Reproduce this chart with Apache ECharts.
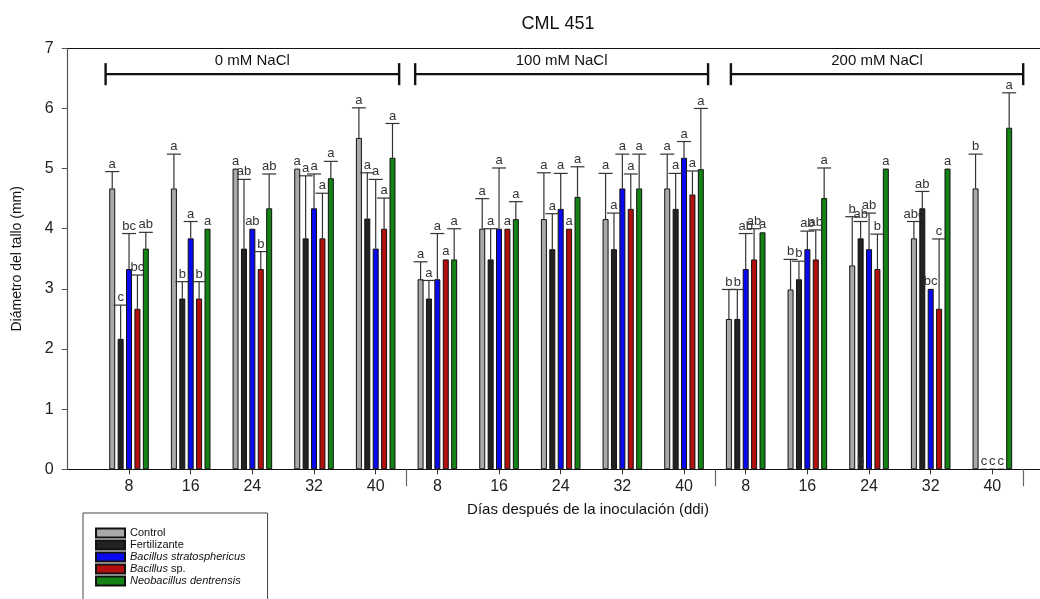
<!DOCTYPE html>
<html><head><meta charset="utf-8">
<script src="https://cdn.jsdelivr.net/npm/echarts@6/dist/echarts.min.js"></script>
<style>html,body{margin:0;padding:0;background:#fff}#c{width:1040px;height:599px}</style>
</head><body><div id="c"></div>
<script>
// ---- data ----
const days = ['8','16','24','32','40','8','16','24','32','40','8','16','24','32','40'];
const treatments = ['Control','Fertilizante','Bacillus stratosphericus','Bacillus sp.','Neobacillus dentrensis'];
const yTicks = [0,1,2,3,4,5,6,7];

const control    = [4.67,4.67,5.00,5.00,5.51, 3.16,4.00,4.16,4.16,4.67, 2.50,2.99,3.39,3.84,4.67];
const controlErr = [0.28,0.57,0,   0,   0.50, 0.29,0.50,0.77,0.76,0.57, 0.49,0.50,0.81,0.28,0.57];
const fert       = [2.17,2.84,3.67,3.84,4.17, 2.84,3.49,3.66,3.66,4.33, 2.50,3.16,3.84,4.34,0];
const fertErr    = [0.56,0.28,1.15,1.04,0.76, 0.30,0.51,0.59,0.60,0.59, 0.49,0.30,0.28,0.28,0];
const blue       = [3.33,3.84,4.00,4.34,3.67, 3.16,4.00,4.33,4.67,5.18, 3.33,3.66,3.66,3.00,0];
const blueErr    = [0.59,0.28,0,   0.57,1.15, 0.76,1.01,0.59,0.57,0.27, 0.59,0.30,0.60,0,   0];
const red        = [2.67,2.84,3.33,3.84,4.00, 3.49,4.00,4.00,4.33,4.57, 3.49,3.49,3.33,2.67,0];
const redErr     = [0.56,0.28,0.29,0.75,0.51, 0,   0,   0,   0.58,0.39, 0.51,0.49,0.58,1.16,0];
const green      = [3.67,4.00,4.34,4.84,5.18, 3.49,4.16,4.53,4.67,4.99, 3.94,4.51,5.00,5.00,5.68];
const greenErr   = [0.27,0,   0.57,0.28,0.57, 0.51,0.29,0.50,0.57,1.01, 0,   0.50,0,   0,   0.58];

const controlLetters = ['a','a','a','a','a', 'a','a','a','a','a', 'b','b','b','abc','b'];
const fertLetters    = ['c','b','ab','a','a', 'a','a','a','a','a', 'b','b','ab','ab','c'];
const blueLetters    = ['bc','a','ab','a','a', 'a','a','a','a','a', 'ab','ab','ab','bc','c'];
const redLetters     = ['bc','b','b','a','a', 'a','a','a','a','a', 'ab','ab','b','c','c'];
const greenLetters   = ['ab','a','ab','a','a', 'a','a','a','a','a', 'a','a','a','a','a'];
// stray letter printed at the base of one bar in the original
const fertBaseLetters = ['','','','','', '','','','','', '','','b','',''];

const saltLabels = ['0 mM NaCl','100 mM NaCl','200 mM NaCl'];
const saltStart  = [-0.38, 4.64, 9.76];
const saltEnd    = [4.38, 9.39, 14.5];
const saltLevel  = 6.57;

// ---- styling ----
const FONT = 'Liberation Sans, Arial, sans-serif';
const colors = ['#a9a9a9','#222222','#0a0af0','#b40f0f','#148214'];
const vals = [control, fert, blue, red, green];
const errs = [controlErr, fertErr, blueErr, redErr, greenErr];
const letters = [controlLetters, fertLetters, blueLetters, redLetters, greenLetters];
const baseLetters = [null, fertBaseLetters, null, null, null];
const BW = 6, GAPR = 0.4, N = 5;

function errRender(k){
  return function(params, api){
    const i = params.dataIndex;
    const v = vals[k][i], e = errs[k][i];
    const step = BW*(1+GAPR);
    const off = -((N*BW + (N-1)*BW*GAPR)/2) + BW/2 + k*step;
    const base = api.coord([i, v]);
    const top = api.coord([i, v+e]);
    const x = base[0] + off;
    const ch = [];
    if (e > 0) {
      ch.push({type:'line', shape:{x1:x,y1:base[1],x2:x,y2:top[1]}, style:{stroke:'#333',lineWidth:1.2}});
      ch.push({type:'line', shape:{x1:x-7,y1:top[1],x2:x+7,y2:top[1]}, style:{stroke:'#333',lineWidth:1.2}});
    }
    ch.push({type:'text', x:x, y:top[1]-1, style:{text:letters[k][i], align:'center', verticalAlign:'bottom', fontSize:13, fill:'#333', fontFamily:FONT}});
    if (baseLetters[k] && baseLetters[k][i]) {
      const b0 = api.coord([i, 0]);
      ch.push({type:'text', x:x, y:b0[1]-1, style:{text:baseLetters[k][i], align:'center', verticalAlign:'bottom', fontSize:13, fill:'#333', fontFamily:FONT}});
    }
    return {type:'group', children:ch};
  };
}

function bracketRender(params, api){
  const i = params.dataIndex;
  const p1 = api.coord([api.value(0), api.value(2)]);
  const p2 = api.coord([api.value(1), api.value(2)]);
  const st = {stroke:'#111', lineWidth:2.4};
  return {type:'group', children:[
    {type:'line', shape:{x1:p1[0],y1:p1[1],x2:p2[0],y2:p2[1]}, style:st},
    {type:'line', shape:{x1:p1[0],y1:p1[1]-11,x2:p1[0],y2:p1[1]+11}, style:st},
    {type:'line', shape:{x1:p2[0],y1:p2[1]-11,x2:p2[0],y2:p2[1]+11}, style:st},
    {type:'text', x:(p1[0]+p2[0])/2, y:p1[1]-6, style:{text:saltLabels[i], align:'center', verticalAlign:'bottom', fontSize:15, fill:'#111', fontFamily:FONT}}
  ]};
}

const series = [];
treatments.forEach((name,k)=>{
  series.push({
    name, type:'bar', xAxisIndex:2, yAxisIndex:1,
    data: vals[k], barWidth:BW, barGap:(GAPR*100)+'%',
    itemStyle:{color:colors[k], borderColor:'#111', borderWidth:1},
    silent:true, z:2
  });
});
treatments.forEach((name,k)=>{
  series.push({
    type:'custom', xAxisIndex:2, yAxisIndex:1, silent:true, z:5,
    data: vals[k].map((v,i)=>[i, v+errs[k][i]]),
    encode:{x:0,y:1},
    renderItem: errRender(k), clip:false
  });
});
series.push({
  type:'custom', xAxisIndex:4, yAxisIndex:1, silent:true, z:5, clip:false,
  data: saltLabels.map((l,i)=>[saltStart[i], saltEnd[i], saltLevel]),
  encode:{x:[0,1], y:2},
  renderItem: bracketRender
});

const italicRich = {i:{fontStyle:'italic', fontSize:11, fontFamily:FONT, color:'#111'}, n:{fontSize:11, fontFamily:FONT, color:'#111'}};

const option = {
  animation:false,
  backgroundColor:'#fff',
  textStyle:{fontFamily:FONT},
  title:[
    {text:'CML 451', left:553, top:10, textAlign:'center', textStyle:{fontSize:18, fontWeight:'normal', color:'#111', fontFamily:FONT}},
    {text:'Días después de la inoculación (ddi)', left:583, top:497, textAlign:'center', textStyle:{fontSize:15, fontWeight:'normal', color:'#111', fontFamily:FONT}}
  ],
  legend:{
    data:treatments, orient:'vertical', left:83, top:513, height:300,
    padding:[14,22,30,12], itemWidth:29, itemHeight:9, itemGap:0,
    borderColor:'#444', borderWidth:1, icon:'rect',
    selectedMode:false,
    textStyle:{fontSize:11, lineHeight:12, color:'#111', fontFamily:FONT, rich:italicRich},
    formatter:function(name){
      if (name==='Bacillus sp.') return '{i|Bacillus} {n|sp.}';
      if (name==='Control' || name==='Fertilizante') return '{n|'+name+'}';
      return '{i|'+name+'}';
    }
  },
  grid:[
    {left:67.7, right:0, top:48.3, bottom:129.7},
    {left:98.2, right:16.8, top:48.3, bottom:129.7}
  ],
  xAxis:[
    {type:'value', gridIndex:0, min:0, max:1, position:'bottom', axisLine:{show:true, onZero:false, lineStyle:{color:'#111', width:1.2}}, axisTick:{show:false}, axisLabel:{show:false}, splitLine:{show:false}},
    {type:'value', gridIndex:0, min:0, max:1, position:'top', axisLine:{show:true, onZero:false, lineStyle:{color:'#111', width:1.2}}, axisTick:{show:false}, axisLabel:{show:false}, splitLine:{show:false}},
    {type:'category', gridIndex:1, data:days, position:'bottom', boundaryGap:true,
      axisLine:{show:false}, axisTick:{show:true, alignWithLabel:true, interval:0, length:5, lineStyle:{color:'#333'}},
      axisLabel:{show:true, interval:0, margin:9, fontSize:16, color:'#222', fontFamily:FONT}, splitLine:{show:false}},
    {type:'category', gridIndex:1, data:days, position:'bottom', boundaryGap:true,
      axisLine:{show:false}, axisTick:{show:true, alignWithLabel:false, length:17, interval:function(idx){return idx===5||idx===10;}, lineStyle:{color:'#666', width:1.2}},
      axisLabel:{show:false}, splitLine:{show:false}},
    {type:'value', gridIndex:1, min:-0.5, max:14.5, show:false}
  ],
  yAxis:[
    {type:'value', gridIndex:0, min:0, max:7, interval:1,
      name:'Diámetro del tallo (mm)', nameLocation:'middle', nameGap:44,
      nameTextStyle:{fontSize:14, color:'#111', fontFamily:FONT},
      axisLine:{show:true, lineStyle:{color:'#555', width:1.2}},
      axisTick:{show:true, inside:false, length:6, lineStyle:{color:'#555'}},
      axisLabel:{margin:14, fontSize:16, color:'#222', fontFamily:FONT},
      splitLine:{show:false}},
    {type:'value', gridIndex:1, min:0, max:7, interval:1, show:false}
  ],
  series
};
const chart = echarts.init(document.getElementById('c'), null, {renderer:'canvas'});
chart.setOption(option);
</script>
</body></html>
